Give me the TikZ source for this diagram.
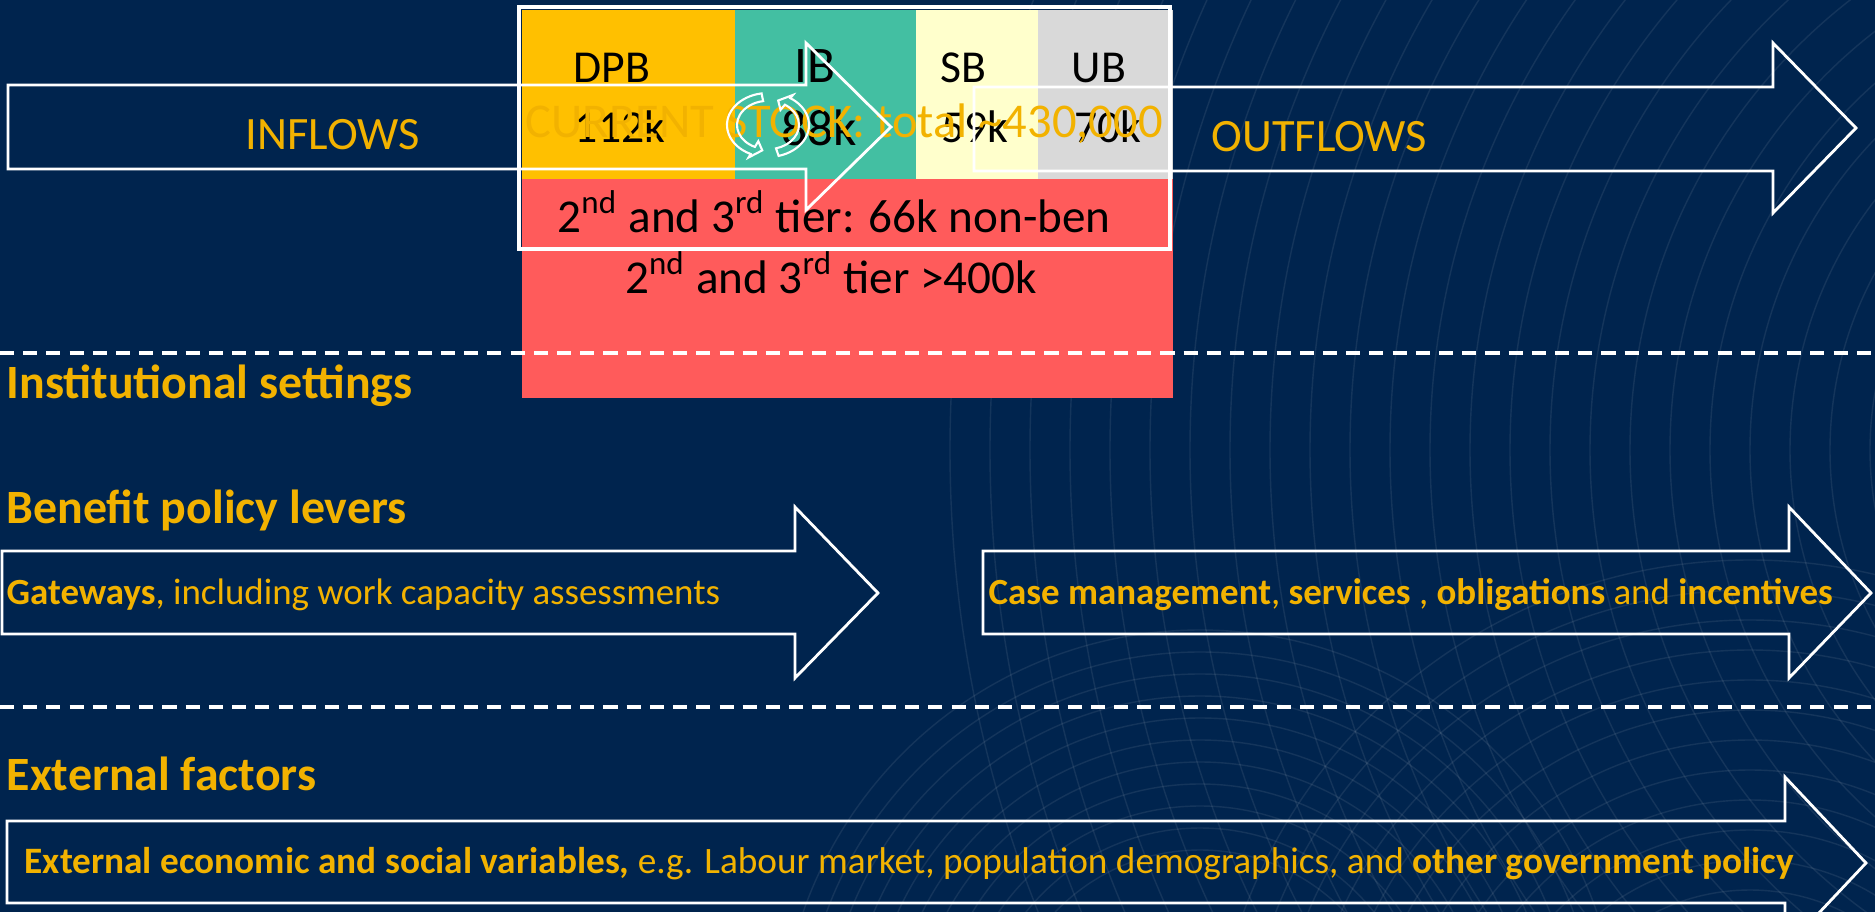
\documentclass[tikz,border=0pt]{standalone}
\usepackage{fontspec}
\setmainfont{Carlito}
\definecolor{navy}{RGB}{0,36,78}
\definecolor{txtgold}{RGB}{242,178,0}
\definecolor{dpbcol}{RGB}{255,192,0}
\definecolor{ibcol}{RGB}{67,191,162}
\definecolor{sbcol}{RGB}{255,255,204}
\definecolor{ubcol}{RGB}{217,217,217}
\definecolor{tiercol}{RGB}{255,91,91}

\begin{document}
\begin{tikzpicture}[x = 0.01cm, y = -0.01cm,
	flow/.style = {draw = white, line width = 0.8pt, line join = miter},
	divider/.style = {draw = white, line width = 0.95pt, dash pattern = on 4pt off 2.6pt},
	bgline/.style = {draw = white, opacity = 0.08, line width = 0.4pt},
	icon/.style = {draw = white, line width = 0.6pt},
	cell/.style = {inner sep = 0pt, anchor = base, text = black, font = \fontsize{13}{15}\selectfont},
	bigcell/.style = {cell, font = \fontsize{14.6}{18}\selectfont},
	tier/.style = {cell, font = \fontsize{13.4}{16}\selectfont},
	flowtxt/.style = {inner sep = 0pt, anchor = base west, text = txtgold, font = \fontsize{13.2}{16}\selectfont},
	heading/.style = {flowtxt, font = \fontsize{13.6}{16}\selectfont\bfseries},
	lever/.style = {flowtxt, font = \fontsize{10.5}{13}\selectfont},
	extern/.style = {flowtxt, font = \fontsize{10.6}{13}\selectfont}]
	\useasboundingbox (0,0) rectangle (1875,912);
	\clip (0,0) rectangle (1875,912);
	\fill[navy] (0,0) rectangle (1875,912);
	\foreach \r in {250,290,...,1250} \draw[bgline] (2200,450) circle[radius = \r];
	\foreach \r in {200,222,...,420} \draw[bgline] (1200,1050) circle[radius = \r];
	\foreach \r in {150,180,...,550} \draw[bgline] (1750,1100) circle[radius = \r];
	\fill[dpbcol] (522,10) rectangle (735,179);
	\fill[ibcol] (735,10) rectangle (916,179);
	\fill[sbcol] (916,10) rectangle (1038,179);
	\fill[ubcol] (1038,10) rectangle (1173,179);
	\fill[tiercol] (522,179) rectangle (1173,398);
	\node[cell] (dpb) at (612,83) {DPB};
	\node[cell] (dpbn) at (620,142) {112k};
	\node[bigcell] (ib) at (815,83) {IB};
	\node[bigcell] (ibn) at (819,145) {88k};
	\node[cell] (sb) at (963,83) {SB};
	\node[cell] (sbn) at (975,142) {59k};
	\node[cell] (ub) at (1099,83) {UB};
	\node[cell] (ubn) at (1108,142) {70k};
	\node[flowtxt, font = \fontsize{13.8}{16}\selectfont] (stock) at (525,137) {CURRENT STOCK: total \textasciitilde430,000};
	\node[tier] (tiera) at (834,232) {2\textsuperscript{nd} and 3\textsuperscript{rd} tier: 66k non-ben};
	\node[tier] (tierb) at (831,293) {2\textsuperscript{nd} and 3\textsuperscript{rd} tier >400k};
	\draw[flow] (8,85) -- (806,85) -- (806,43) -- (891,127) -- (806,210) -- (806,169) -- (8,169) -- cycle;
	\draw[flow] (974,87) -- (1773,87) -- (1773,43) -- (1856,128) -- (1773,213) -- (1773,171) -- (974,171) -- cycle;
	\draw[white, line width = 0.95pt] (519,7) rectangle (1170,249);
	\begin{scope}[shift = {(768,125)}, yscale = -0.78]
		\draw[icon] (99:41) arc[start angle = 99, end angle = 245, radius = 41] -- (245:46) -- (260:33) -- (245:23) -- (245:31) arc[start angle = 245, end angle = 99, radius = 31] -- cycle;
		\draw[icon] (285:41) arc[start angle = 285, end angle = 417, radius = 41] -- (417:46) -- (432:33) -- (417:23) -- (417:31) arc[start angle = 417, end angle = 285, radius = 31] -- cycle;
	\end{scope}
	\node[flowtxt] (inflow) at (245,149) {INFLOWS};
	\node[flowtxt] (outflow) at (1211,151) {OUTFLOWS};
	\draw[divider] (0,353) -- (1875,353);
	\node[heading] (inst) at (6,398) {Institutional settings};
	\node[heading] (levers) at (6,523) {Benefit policy levers};
	\draw[flow] (2,551) -- (795,551) -- (795,507) -- (878,593) -- (795,678) -- (795,634) -- (2,634) -- cycle;
	\node[lever] (gate) at (6,604) {\textbf{Gateways}, including work capacity assessments};
	\draw[flow] (983,551) -- (1789,551) -- (1789,507) -- (1871,593) -- (1789,678) -- (1789,634) -- (983,634) -- cycle;
	\node[lever] (case) at (988,604) {\textbf{Case management}, \textbf{services} , \textbf{obligations} and \textbf{incentives}};
	\draw[divider] (0,707) -- (1875,707);
	\node[heading] (ext) at (6,790) {External factors};
	\draw[flow] (7,821) -- (1785,821) -- (1785,777) -- (1866,863) -- (1785,949) -- (1785,903) -- (7,903) -- cycle;
	\node[extern] (vars) at (24,873) {\textbf{External economic and social variables,} e.g. Labour market, population demographics, and \textbf{other government policy}};
\end{tikzpicture}
\end{document}
